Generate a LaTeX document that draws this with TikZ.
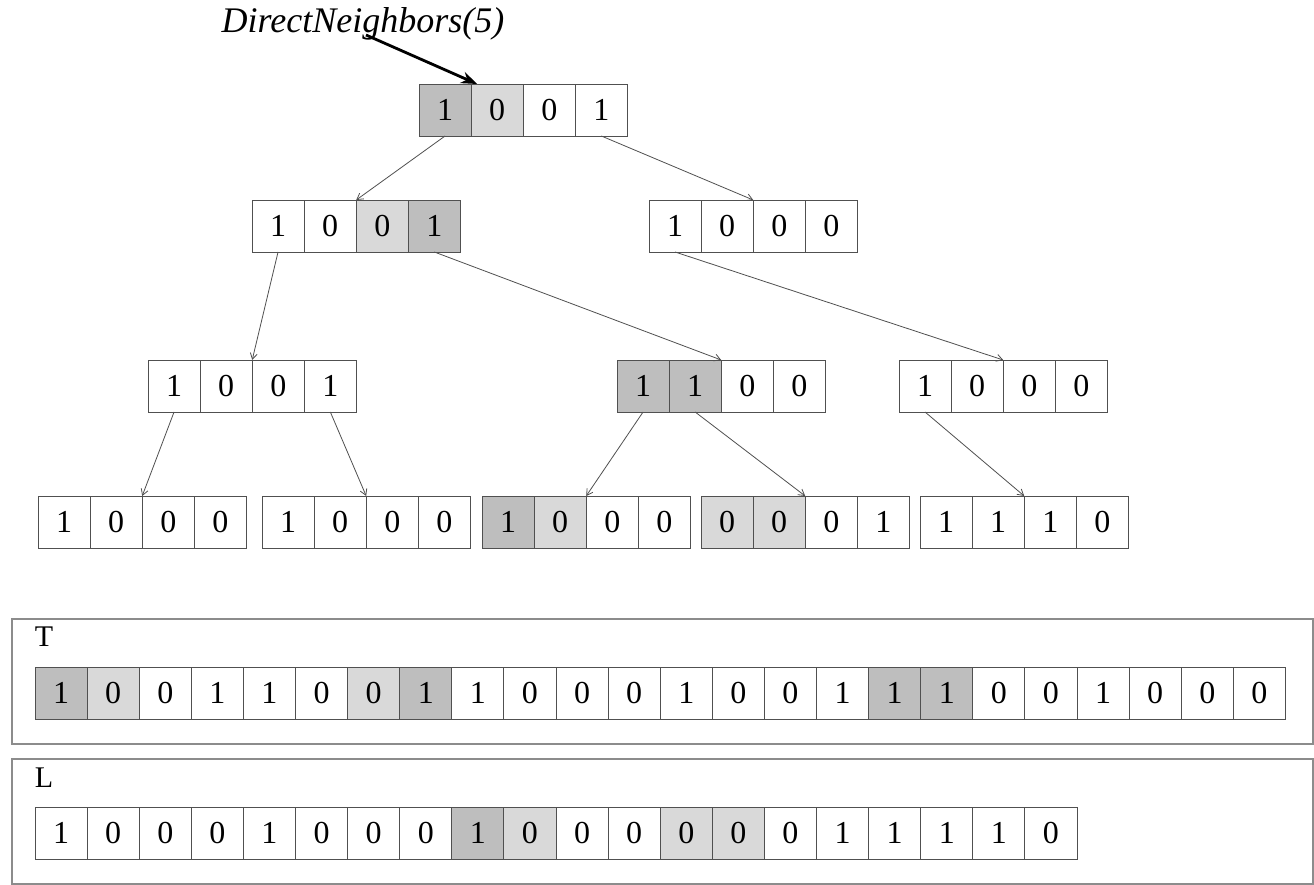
\documentclass[tikz,border=0pt]{standalone}
\usepackage{fontspec}
\setmainfont{Liberation Serif}
\usetikzlibrary{arrows.meta}
\definecolor{dk}{HTML}{BEBEBE}
\definecolor{lt}{HTML}{D9D9D9}
\definecolor{ln}{HTML}{505050}
\definecolor{fr}{HTML}{8C8C8C}
\newcommand{\cellrow}[4]{%
  \foreach \v/\f [count=\i] in {#4} {
    \node[cell, fill=\f] (#1-\i) at ({#2+(\i-0.5)*52.1}, {#3+26}) {\v};
  }%
}
\begin{document}
\begin{tikzpicture}[x=1pt,y=-1pt,
  cell/.style={draw=ln, line width=0.9pt, minimum width=52.1pt, minimum height=52pt,
    inner sep=0pt, outer sep=0pt, font=\fontsize{32}{32}\selectfont},
  edge/.style={draw=ln, line width=0.8pt, -{Straight Barb[length=6pt,width=7pt]}},
  frame/.style={draw=fr, line width=1.5pt, inner sep=0pt, fill=none},
  thick arrow/.style={draw=black, line width=2.8pt, -{Stealth[length=16pt,width=12pt]}},
  lab/.style={font=\fontsize{30}{30}\selectfont, inner sep=0pt}]
\useasboundingbox (0,0) rectangle (1314,885);
\fill[white] (0,0) rectangle (1314,885);

% tree
\cellrow{root}{419}{84}{1/dk,0/lt,0/white,1/white}
\cellrow{la}{252}{200}{1/white,0/white,0/lt,1/dk}
\cellrow{lb}{649}{200}{1/white,0/white,0/white,0/white}
\cellrow{a}{148}{360}{1/white,0/white,0/white,1/white}
\cellrow{b}{617}{360}{1/dk,1/dk,0/white,0/white}
\cellrow{c}{899}{360}{1/white,0/white,0/white,0/white}
\cellrow{da}{38}{496}{1/white,0/white,0/white,0/white}
\cellrow{db}{262}{496}{1/white,0/white,0/white,0/white}
\cellrow{dc}{482}{496}{1/dk,0/lt,0/white,0/white}
\cellrow{dd}{701}{496}{0/lt,0/lt,0/white,1/white}
\cellrow{de}{920}{496}{1/white,1/white,1/white,0/white}

\draw[edge] (root-1.south) -- (la-2.north east);
\draw[edge] (root-4.south) -- (lb-2.north east);
\draw[edge] (la-1.south) -- (a-2.north east);
\draw[edge] (la-4.south) -- (b-2.north east);
\draw[edge] (lb-1.south) -- (c-2.north east);
\draw[edge] (a-1.south) -- (da-2.north east);
\draw[edge] (a-4.south) -- (db-2.north east);
\draw[edge] (b-1.south) -- (dc-2.north east);
\draw[edge] (b-2.south) -- (dd-2.north east);
\draw[edge] (c-1.south) -- (de-2.north east);

% label and thick arrow
\node[font=\fontsize{36}{36}\selectfont\itshape, inner sep=0pt] (lbl) at (363,24) {DirectNeighbors(5)};
\coordinate (as) at (366,35);
\draw[thick arrow] (as) -- ([xshift=6pt]root-2.north west);

% T array
\node[frame, minimum width=1301pt, minimum height=125pt] (tbox) at (662.5,681.5) {};
\node[lab] (tlab) at (44,637) {T};
\cellrow{t}{35}{667}{1/dk,0/lt,0/white,1/white,1/white,0/white,0/lt,1/dk,1/white,0/white,0/white,0/white,1/white,0/white,0/white,1/white,1/dk,1/dk,0/white,0/white,1/white,0/white,0/white,0/white}

% L array
\node[frame, minimum width=1301pt, minimum height=125pt] (lbox) at (662.5,821.5) {};
\node[lab] (llab) at (44,778) {L};
\cellrow{l}{35}{807}{1/white,0/white,0/white,0/white,1/white,0/white,0/white,0/white,1/dk,0/lt,0/white,0/white,0/lt,0/lt,0/white,1/white,1/white,1/white,1/white,0/white}
\end{tikzpicture}
\end{document}
